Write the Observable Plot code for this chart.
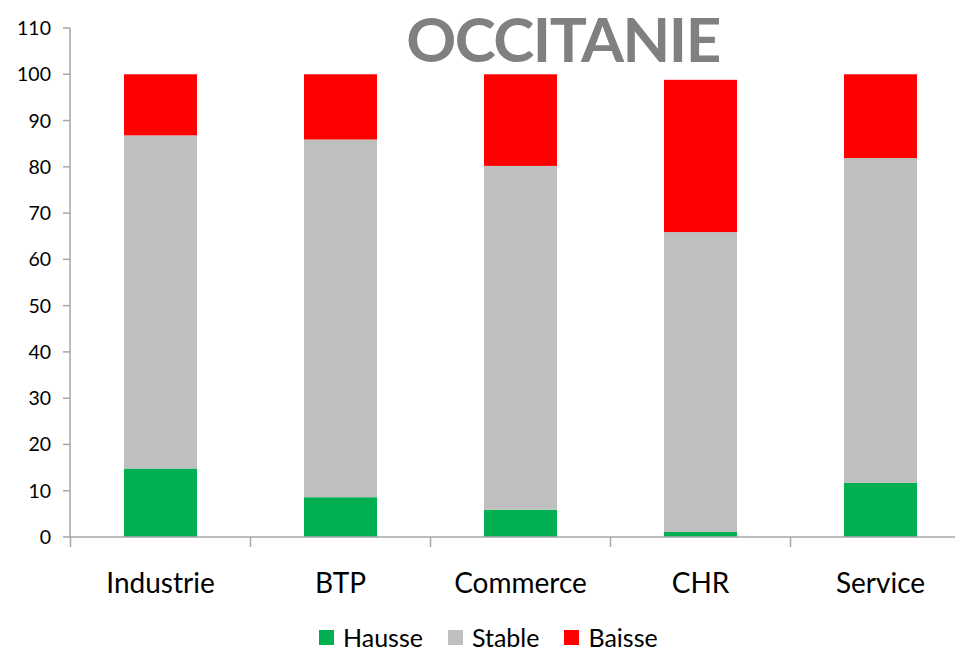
<!DOCTYPE html>
<html><head><meta charset="utf-8">
<script src="https://cdn.jsdelivr.net/npm/d3@7"></script>
<script src="https://cdn.jsdelivr.net/npm/@observablehq/plot@0.6"></script>
<style>
body{margin:0;background:#fff;font-family:Lato,"Open Sans",sans-serif;}
#wrap{position:relative;width:955px;height:654px;overflow:hidden;}
#title{position:absolute;left:563px;transform:translateX(-50%);white-space:nowrap;top:1px;font:bold 62px Lato,sans-serif;line-height:normal;color:#808080;letter-spacing:-1.5px;}
#legend{position:absolute;top:622px;left:319px;display:flex;align-items:center;font:25px Lato,sans-serif;color:#000;}
#legend span.sw{display:inline-block;width:15px;height:15px;margin-right:9px;}
#legend span.it{display:flex;align-items:center;margin-right:25px;}
</style></head>
<body><div id="wrap"><div id="chart"></div><div id="title">OCCITANIE</div><div id="legend"></div></div>
<script>
const categories = ["Industrie","BTP","Commerce","CHR","Service"];
const series = ["Hausse","Stable","Baisse"];
const colors = ["#00b050","#bfbfbf","#ff0000"];
const hausse = [14.8, 8.6, 5.9, 1.1, 11.7];
const stable = [72.0, 77.3, 74.3, 64.8, 70.2];
const baisse = [13.2, 14.1, 19.8, 32.9, 18.1];
const yTicks = [0,10,20,30,40,50,60,70,80,90,100,110];

const vals = [hausse, stable, baisse];
const data = [];
series.forEach((s, si) => categories.forEach((c, ci) => data.push({cat: c, serie: s, value: vals[si][ci]})));

const chart = Plot.plot({
  width: 955, height: 610,
  marginTop: 28, marginBottom: 73, marginLeft: 70, marginRight: 0,
  style: {fontFamily: "Lato, sans-serif", background: "white"},
  x: {domain: categories, range: [70, 970], paddingInner: 0.595, paddingOuter: 0.2975, align: 0.5, axis: null},
  y: {domain: [0, 110], range: [537, 28], axis: null},
  color: {domain: series, range: colors},
  marks: [
    Plot.barY(data, {x: "cat", y: "value", fill: "serie", order: series})
  ]
});
document.getElementById("chart").appendChild(chart);

const xs = chart.scale("x"), ys = chart.scale("y");
const svg = d3.select(chart);
const y0 = ys.apply(0), yTop = ys.apply(110);
const g = svg.append("g");
g.append("line").attr("x1",70).attr("x2",70).attr("y1",yTop).attr("y2",y0).attr("stroke","#a6a6a6").attr("stroke-width",1.5);
g.append("line").attr("x1",70).attr("x2",955).attr("y1",y0).attr("y2",y0).attr("stroke","#a6a6a6").attr("stroke-width",1.5);
yTicks.forEach(t => {
  const y = ys.apply(t);
  g.append("line").attr("x1",63).attr("x2",70).attr("y1",y).attr("y2",y).attr("stroke","#a6a6a6").attr("stroke-width",1.5);
  g.append("text").attr("x",51).attr("y",y).attr("dy","0.36em").attr("text-anchor","end").attr("font-size",19.5).attr("font-family","Lato, sans-serif").attr("fill","#000").text(t);
});
categories.forEach((c) => {
  const center = xs.apply(c) + xs.bandwidth / 2;
  const left = center - xs.step / 2;
  g.append("line").attr("x1",left).attr("x2",left).attr("y1",y0).attr("y2",y0+10).attr("stroke","#a6a6a6").attr("stroke-width",1.5);
  g.append("text").attr("x", center).attr("y", y0+56).attr("text-anchor","middle").attr("font-size",28).attr("font-family","Lato, sans-serif").attr("fill","#000").text(c);
});

const lg = document.getElementById("legend");
series.forEach((s, i) => {
  const it = document.createElement("span"); it.className = "it";
  const sw = document.createElement("span"); sw.className = "sw"; sw.style.background = colors[i];
  it.appendChild(sw); it.appendChild(document.createTextNode(s)); lg.appendChild(it);
});
</script></body></html>
